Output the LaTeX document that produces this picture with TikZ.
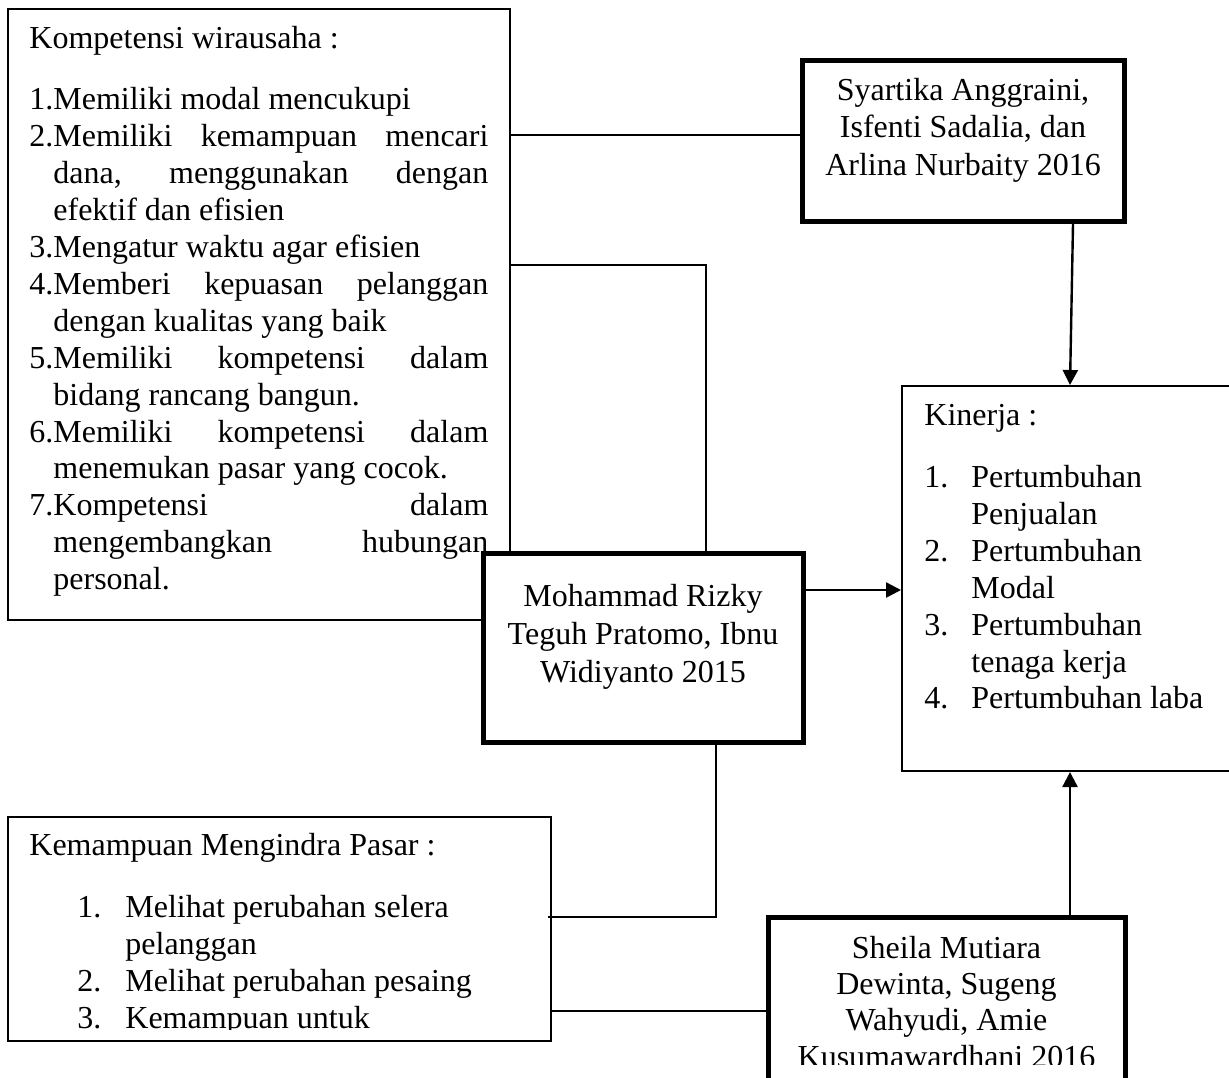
\documentclass[tikz,border=0pt]{standalone}
\usepackage{fontspec}
\setmainfont{Liberation Serif}
\usetikzlibrary{arrows.meta}
\newcommand\jln[1]{\hbox to 229.5pt{#1}}
\newcommand\ind{\phantom{1.}}
\newcommand\knum[1]{\hbox to 23.5pt{#1\hfil}}
\newcommand\mnum[1]{\hbox to 24pt{#1\hfil}}
\newcommand\ctr[2]{\hbox to #1{\hfil#2\hfil}}
\begin{document}
\begin{tikzpicture}[x=0.5pt,y=-0.5pt, font=\fontsize{16}{18.45}\selectfont,
  thinbox/.style={draw, line width=1pt, inner sep=0pt},
  thickbox/.style={draw, line width=2.5pt, inner sep=0pt, fill=white},
  conn/.style={line width=1pt},
  arr/.style={line width=1.2pt, -{Triangle[length=7.5pt,width=7.5pt]}},
  txt/.style={inner sep=0pt}]
\useasboundingbox[fill=white] (0,0) rectangle (1229,1077);

% Kompetensi wirausaha
\node[thinbox, minimum width=251pt, minimum height=305.5pt] (komp) at (259,314.5) {};
\node[txt, anchor=base west] (kompt) at (29,48) {\vtop{%
 \hbox{Kompetensi wirausaha :}\vskip12.5pt
 \hbox{1.Memiliki modal mencukupi}
 \jln{2.Memiliki\hfill kemampuan\hfill mencari}
 \jln{\ind dana,\hfill menggunakan\hfill dengan}
 \hbox{\ind efektif dan efisien}
 \hbox{3.Mengatur waktu agar efisien}
 \jln{4.Memberi\hfill kepuasan\hfill pelanggan}
 \hbox{\ind dengan kualitas yang baik}
 \jln{5.Memiliki\hfill kompetensi\hfill dalam}
 \hbox{\ind bidang rancang bangun.}
 \jln{6.Memiliki\hfill kompetensi\hfill dalam}
 \hbox{\ind menemukan pasar yang cocok.}
 \jln{7.Kompetensi\hfill dalam}
 \jln{\ind mengembangkan\hfill hubungan}
 \hbox{\ind personal.}}};

% Syartika
\node[thickbox, minimum width=161pt, minimum height=80.5pt] (syar) at (963,140.5) {};
\node[txt, anchor=base] (syart) at (963,100) {\vtop{\baselineskip=18.8pt
 \ctr{161pt}{Syartika Anggraini,}
 \ctr{161pt}{Isfenti Sadalia, dan}
 \ctr{161pt}{Arlina Nurbaity 2016}}};

% Kinerja
\node[thinbox, minimum width=164.5pt, minimum height=192.5pt] (kin) at (1066.5,578.5) {};
\node[txt, anchor=base west] (kint) at (924,425) {\vtop{%
 \hbox{Kinerja :}\vskip12.8pt
 \hbox{\knum{1.}Pertumbuhan}
 \hbox{\knum{}Penjualan}
 \hbox{\knum{2.}Pertumbuhan}
 \hbox{\knum{}Modal}
 \hbox{\knum{3.}Pertumbuhan}
 \hbox{\knum{}tenaga kerja}
 \hbox{\knum{4.}Pertumbuhan laba}}};

% Kemampuan Mengindra Pasar
\node[thinbox, minimum width=271.5pt, minimum height=112pt] (kem) at (279.5,929) {};
\begin{scope}
\clip (8,817) rectangle (551,1029);
\node[txt, anchor=base west] (kemt) at (29,855) {\vtop{%
 \hbox{Kemampuan Mengindra Pasar :}\vskip12.8pt
 \hbox{\kern24pt\mnum{1.}Melihat perubahan selera}
 \hbox{\kern48pt pelanggan}
 \hbox{\kern24pt\mnum{2.}Melihat perubahan pesaing}
 \hbox{\kern24pt\mnum{3.}Kemampuan untuk}}};
\end{scope}

% Sheila
\node[thickbox, minimum width=178.5pt, minimum height=86.5pt] (sheila) at (946.5,1003.5) {};
\begin{scope}
\clip (768,917) rectangle (1125,1064);
\node[txt, anchor=base] (sheilat) at (946.5,958) {\vtop{\baselineskip=18.2pt
 \ctr{178.5pt}{Sheila Mutiara}
 \ctr{178.5pt}{Dewinta, Sugeng}
 \ctr{178.5pt}{Wahyudi, Amie}
 \ctr{178.5pt}{Kusumawardhani 2016}}};
\end{scope}

% Mohammad (on top of the Kompetensi box)
\node[thickbox, minimum width=160pt, minimum height=94.5pt] (moh) at (643,647.5) {};
\node[txt, anchor=base] (moht) at (643,606) {\vtop{\baselineskip=19pt
 \ctr{160pt}{Mohammad Rizky}
 \ctr{160pt}{Teguh Pratomo, Ibnu}
 \ctr{160pt}{Widiyanto 2015}}};

% connectors
\draw[conn] (komp.east |- 0,135) -- (syar.west |- 0,135);
\draw[conn] (komp.east |- 0,265) -| (moh.north -| 706,0);
\draw[arr] (syar.south -| 1073,0) -- (kin.north -| 1070,0);
\draw[arr] (moh.east |- 0,590) -- (kin.west |- 0,590);
\draw[conn] (moh.south -| 716,0) |- (kem.east |- 0,917) -- ++(-4,0);
\draw[conn] (kem.east |- 0,1011) -- (sheila.west |- 0,1011);
\draw[arr] (sheila.north -| 1070,0) -- (kin.south -| 1070,0);
\end{tikzpicture}
\end{document}
